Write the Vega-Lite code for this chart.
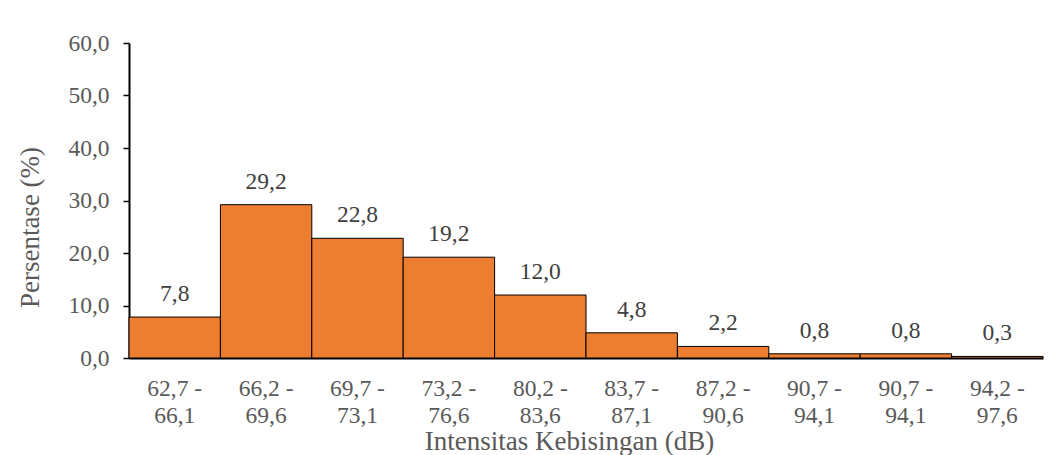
{
  "$schema": "https://vega.github.io/schema/vega-lite/v6.json",
  "width": 914,
  "height": 315,
  "autosize": {"type": "none"},
  "padding": {"left": 129, "top": 43, "right": 14, "bottom": 97},
  "background": "#ffffff",
  "data": {
    "values": [
      {"rentang": "62,7 -\n66,1", "persen": 7.8},
      {"rentang": "66,2 -\n69,6", "persen": 29.2},
      {"rentang": "69,7 -\n73,1", "persen": 22.8},
      {"rentang": "73,2 -\n76,6", "persen": 19.2},
      {"rentang": "80,2 -\n83,6", "persen": 12.0},
      {"rentang": "83,7 -\n87,1", "persen": 4.8},
      {"rentang": "87,2 -\n90,6", "persen": 2.2},
      {"rentang": "90,7 -\n94,1", "persen": 0.8},
      {"rentang": "90,7 -\n94,1\u200b", "persen": 0.8},
      {"rentang": "94,2 -\n97,6", "persen": 0.3}
    ]
  },
  "encoding": {
    "x": {
      "field": "rentang",
      "type": "nominal",
      "sort": null,
      "scale": {"paddingInner": 0, "paddingOuter": 0},
      "axis": {
        "title": "Intensitas Kebisingan (dB)",
        "labelAngle": 0,
        "labelExpr": "split(datum.value, '\\n')",
        "labelLineHeight": 27,
        "labelPadding": 18,
        "ticks": false,
        "domainColor": "#000000",
        "domainWidth": 2,
        "titleX": 440,
        "titleY": 83,
        "titleBaseline": "middle",
        "titleAnchor": null
      }
    },
    "y": {
      "field": "persen",
      "type": "quantitative",
      "scale": {"domain": [0, 60], "nice": false},
      "axis": {
        "title": "Persentase (%)",
        "values": [0, 10, 20, 30, 40, 50, 60],
        "format": ".1f",
        "grid": false,
        "domainColor": "#000000",
        "domainWidth": 2,
        "tickColor": "#000000",
        "tickSize": 6,
        "tickWidth": 1.5,
        "labelPadding": 14,
        "titleX": -99,
        "titleY": 184,
        "titleBaseline": "middle",
        "titleAngle": -90
      }
    }
  },
  "layer": [
    {
      "mark": {"type": "bar", "color": "#ED7D31", "stroke": "#000000", "strokeWidth": 1}
    },
    {
      "mark": {
        "type": "text",
        "baseline": "alphabetic",
        "dy": -16,
        "font": "Liberation Serif",
        "fontSize": 23.5,
        "color": "#404040"
      },
      "encoding": {
        "text": {"field": "persen", "type": "quantitative", "format": ".1f"}
      }
    }
  ],
  "config": {
    "locale": {
      "number": {"decimal": ",", "thousands": ".", "grouping": [3], "currency": ["", ""]}
    },
    "view": {"stroke": null},
    "axis": {
      "labelFont": "Liberation Serif",
      "labelFontSize": 23.5,
      "labelColor": "#595959",
      "titleFont": "Liberation Serif",
      "titleFontSize": 27,
      "titleFontWeight": "normal",
      "titleColor": "#595959"
    }
  }
}
